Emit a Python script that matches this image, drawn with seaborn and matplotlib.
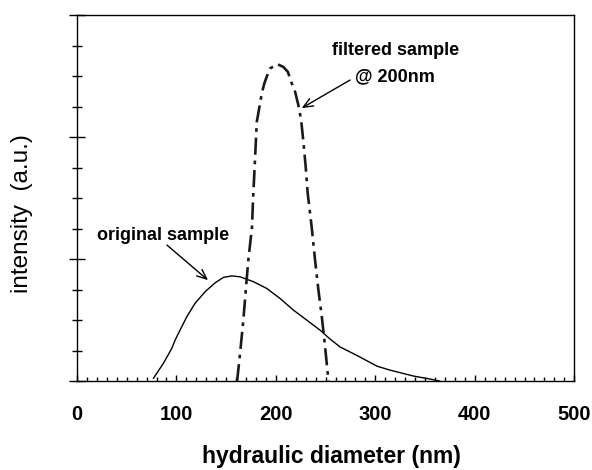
import pandas as pd
import matplotlib
matplotlib.use("Agg")
import matplotlib.pyplot as plt
import seaborn as sns
from matplotlib.ticker import MultipleLocator, NullFormatter

# original sample (solid line)
orig_d = [76.8, 86.8, 95.3, 98.6, 103.6, 110.4, 118.7, 128.8, 138.8, 147.2, 155.6,
          164, 177.4, 190.8, 204.2, 217.6, 231.1, 244.5, 254.5, 264.6, 281.7,
          301.8, 315, 338, 355, 365]
orig_i = [0.09, 0.58, 1.07, 1.34, 1.67, 2.11, 2.55, 2.93, 3.22, 3.40, 3.45,
          3.42, 3.26, 3.04, 2.71, 2.33, 2.0, 1.67, 1.38, 1.12, 0.84,
          0.49, 0.36, 0.17, 0.07, 0.0]

# filtered sample @ 200nm (dash-dot line)
filt_d = [161, 164, 167.3, 170, 172.3, 176, 177, 179, 180.8, 182.4, 184.1, 185.8,
          188.4, 190.8, 194.2, 201.5, 207.5, 212, 216, 219.3, 222.6, 225.4, 227.5,
          230, 232, 236, 239.4, 242.8, 246.2, 249.5, 251.8, 253]
filt_i = [0.0, 0.91, 2.0, 3.09, 3.97, 5.05, 5.93, 7.25, 8.5, 8.79, 9.11, 9.43,
          9.76, 9.98, 10.25, 10.39, 10.30, 10.14, 9.76, 9.49, 9.05, 8.56, 7.9,
          7.02, 6.16, 5.05, 3.97, 2.98, 2.11, 1.12, 0.36, 0.0]

xticks = [0, 100, 200, 300, 400, 500]

df_o = pd.DataFrame({"d": orig_d, "i": orig_i})
df_f = pd.DataFrame({"d": filt_d, "i": filt_i})

sns.set_style("ticks", rc={"text.color": "black", "axes.labelcolor": "black",
                           "xtick.color": "black", "ytick.color": "black",
                           "axes.edgecolor": "black"})
plt.rcParams["font.family"] = ["Liberation Sans", "DejaVu Sans"]

fig = plt.figure(figsize=(5.92, 4.70), dpi=100)
ax = fig.add_axes([0.130, 0.189, 0.840, 0.779])

sns.lineplot(data=df_o, x="d", y="i", ax=ax, color="black", lw=1.0,
             sort=False, estimator=None)
sns.lineplot(data=df_f, x="d", y="i", ax=ax, color="#1a1a1a", lw=1.9,
             sort=False, estimator=None, linestyle=(0, (6.5, 2.2, 1.4, 2.2)))

ax.set_xlim(0, 500)
ax.set_ylim(0, 12)
ax.set_xticks(xticks)
ax.set_xticklabels([str(v) for v in xticks], fontsize=14.5, fontweight="bold")
ax.xaxis.set_minor_locator(MultipleLocator(10))
ax.yaxis.set_major_locator(MultipleLocator(4))
ax.yaxis.set_minor_locator(MultipleLocator(1))
ax.yaxis.set_major_formatter(NullFormatter())

ax.tick_params(axis="x", which="major", direction="in", length=4.5, width=1,
               pad=17)
ax.tick_params(axis="x", which="minor", direction="in", length=2.6, width=1)
ax.tick_params(axis="y", which="major", direction="inout", length=11, width=1)
ax.tick_params(axis="y", which="minor", direction="inout", length=7, width=1)

for s in ax.spines.values():
    s.set_visible(True)
    s.set_linewidth(1.0)
    s.set_color("black")

ax.set_xlabel("hydraulic diameter (nm)", fontsize=16.5, fontweight="bold")
ax.xaxis.set_label_coords(0.511, -0.175)
ax.xaxis.label.set_va("top")
ax.set_ylabel("intensity  (a.u.)", fontsize=17.5)
ax.yaxis.set_label_coords(-0.088, 0.459)

arrow = dict(arrowstyle="->,head_length=0.7,head_width=0.3", color="black",
             lw=1.0, shrinkA=0, shrinkB=0)
ax.annotate("", xy=(131.8, 3.31), xytext=(90.5, 4.46), arrowprops=arrow)
ax.text(86.5, 4.79, "original sample", fontsize=13, fontweight="bold",
        ha="center", va="center")

ax.annotate("", xy=(226, 8.95), xytext=(274.6, 9.87), arrowprops=arrow)
ax.text(320, 10.85, "filtered sample", fontsize=13, fontweight="bold",
        ha="center", va="center")
ax.text(320, 9.97, "@ 200nm", fontsize=13, fontweight="bold",
        ha="center", va="center")

fig.savefig("out.png", dpi=100, facecolor="white")
